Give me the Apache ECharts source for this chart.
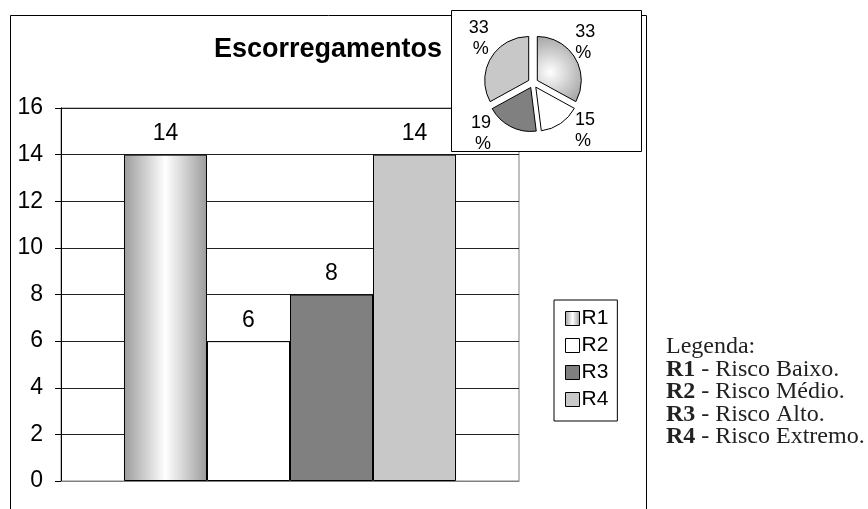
<!DOCTYPE html>
<html>
<head>
<meta charset="utf-8">
<script src="https://cdn.jsdelivr.net/npm/echarts@6/dist/echarts.min.js"></script>
<style>html,body{margin:0;padding:0;background:#fff}#c{width:868px;height:509px}</style>
</head>
<body>
<div id="c"></div>
<script>
const categories = ['Escorregamentos'];
const seriesNames = ['R1', 'R2', 'R3', 'R4'];
const barValues = [14, 6, 8, 14];
const piePercents = [33, 15, 19, 33];
const yTicks = [0, 2, 4, 6, 8, 10, 12, 14, 16];
const legendLines = [
  ['R1', 'Risco Baixo.'],
  ['R2', 'Risco Médio.'],
  ['R3', 'Risco Alto.'],
  ['R4', 'Risco Extremo.']
];

const SANS = '"Liberation Sans", Arial, sans-serif';
const SERIF = '"Liberation Serif", "Times New Roman", serif';

const r1Bar = new echarts.graphic.LinearGradient(0, 0, 1, 0, [
  {offset: 0, color: '#9c9c9c'}, {offset: 0.5, color: '#ffffff'}, {offset: 1, color: '#9c9c9c'}
]);
const r1Pie = new echarts.graphic.RadialGradient(0.3, 0.55, 0.8, [
  {offset: 0, color: '#ffffff'}, {offset: 1, color: '#a8a8a8'}
]);
const colors = [r1Bar, '#ffffff', '#808080', '#c8c8c8'];
const pieColors = [r1Pie, '#ffffff', '#808080', '#c8c8c8'];
// small nudges of the pie's percentage labels (dx, dy) to mimic the reference placement
const pieLabelNudge = [[-10, -12], [6, 2], [-12, 2], [8, -16]];

const chart = echarts.init(document.getElementById('c'), null, {renderer: 'canvas'});

const barSeries = seriesNames.map((n, i) => ({
  type: 'bar',
  name: n,
  data: [barValues[i]],
  barGap: '0%',
  barCategoryGap: '27.5%',
  itemStyle: {color: colors[i], borderColor: '#000', borderWidth: 1},
  label: {show: true, position: 'top', distance: 9, fontSize: 23, fontFamily: SANS, color: '#000'},
  emphasis: {disabled: true},
  animation: false
}));

const legendText = 'Legenda:\n' + legendLines.map(l => '{b|' + l[0] + '} - ' + l[1]).join('\n');

chart.setOption({
  animation: false,
  title: {
    text: 'Escorregamentos',
    left: 323, top: 31, textAlign: 'center',
    textStyle: {fontFamily: SANS, fontSize: 27, fontWeight: 'bold', color: '#000'}
  },
  legend: {
    data: seriesNames,
    orient: 'vertical',
    left: 554, top: 300,
    padding: [8, 9, 11, 11],
    itemWidth: 14, itemHeight: 14, itemGap: 6,
    borderColor: '#000', borderWidth: 1,
    icon: 'rect',
    selectedMode: false,
    itemStyle: {borderColor: '#000', borderWidth: 1},
    textStyle: {fontFamily: SANS, fontSize: 21, color: '#000', padding: [0, 0, 0, -3]}
  },
  grid: {left: 61, top: 108, right: 349, bottom: 28, show: true, borderColor: '#808080', borderWidth: 1, backgroundColor: '#fff'},
  xAxis: {
    type: 'category', data: categories,
    axisLine: {lineStyle: {color: '#808080'}},
    axisTick: {show: false}, axisLabel: {show: false}
  },
  yAxis: {
    type: 'value', min: yTicks[0], max: yTicks[yTicks.length - 1], interval: 2,
    axisLine: {show: true, lineStyle: {color: '#000'}},
    axisTick: {show: true, length: 6, lineStyle: {color: '#000'}},
    axisLabel: {fontFamily: SANS, fontSize: 23, color: '#000', margin: 18},
    splitLine: {lineStyle: {color: '#222', width: 1}}
  },
  graphic: [
    {type: 'polyline', z: 50, silent: true, shape: {points: [[10.5, 509], [10.5, 15.5], [646.5, 15.5], [646.5, 509]]}, style: {stroke: '#000', lineWidth: 1, fill: null}},
    {type: 'rect', z: 60, silent: true, shape: {x: 451.5, y: 10.5, width: 190, height: 141}, style: {fill: '#fff', stroke: '#000', lineWidth: 1}},
    {type: 'text', z: 60, silent: true, left: 666, top: 335,
      style: {text: legendText, fontFamily: SERIF, fontSize: 24, lineHeight: 22.5, fill: '#222',
        rich: {b: {fontFamily: SERIF, fontSize: 24, lineHeight: 22.5, fontWeight: 'bold', fill: '#222'}}}}
  ],
  series: barSeries.concat([{
    type: 'pie',
    name: 'pie',
    z: 70,
    center: [533, 83],
    radius: 44,
    startAngle: 90,
    clockwise: true,
    selectedMode: 'multiple',
    selectedOffset: 5,
    avoidLabelOverlap: false,
    emphasis: {disabled: true},
    label: {show: true, position: 'outside', formatter: '{c}\n%', fontFamily: SANS, fontSize: 18, lineHeight: 21, color: '#000'},
    labelLine: {show: false, length: 6, length2: 0},
    labelLayout: function (p) {
      const d = pieLabelNudge[p.dataIndex];
      return {dx: d[0], dy: d[1]};
    },
    data: seriesNames.map((n, i) => ({
      name: n, value: piePercents[i], selected: true,
      itemStyle: {color: pieColors[i], borderColor: '#000', borderWidth: 1}
    }))
  }])
});
</script>
</body>
</html>
